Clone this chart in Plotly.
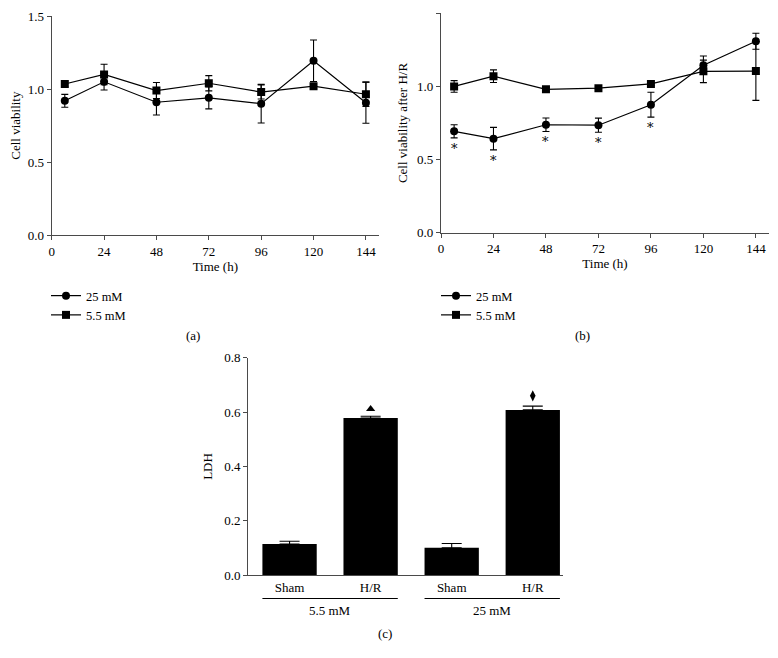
import plotly.graph_objects as go

# ---------------- data ----------------
times = [6, 24, 48, 72, 96, 120, 144]
time_ticks = [0, 24, 48, 72, 96, 120, 144]

a_25 = [0.92, 1.05, 0.91, 0.94, 0.90, 1.194, 0.907]
a_25_err = [0.044, 0.056, 0.087, 0.075, 0.132, 0.142, 0.141]
a_55 = [1.035, 1.10, 0.99, 1.04, 0.98, 1.02, 0.965]
a_55_err = [0.02, 0.07, 0.055, 0.052, 0.048, 0.015, 0.083]

b_25 = [0.693, 0.643, 0.738, 0.735, 0.875, 1.145, 1.309]
b_25_err = [0.045, 0.077, 0.046, 0.048, 0.085, 0.063, 0.055]
b_55 = [1.0, 1.07, 0.98, 0.988, 1.017, 1.103, 1.105]
b_55_err = [0.04, 0.043, 0.012, 0.01, 0.01, 0.077, 0.2]
b_star_idx = [0, 1, 2, 3, 4]

c_labels = ["Sham", "H/R", "Sham", "H/R"]
c_groups = ["5.5 mM", "25 mM"]
c_values = [0.115, 0.578, 0.101, 0.608]
c_err = [0.010, 0.007, 0.016, 0.014]
c_mark_symbols = ["triangle-up", "diamond-tall"]
c_mark_idx = [1, 3]
c_mark_y = [0.611, 0.66]

series_names = ["25 mM", "5.5 mM"]

# ---------------- style ----------------
FONT = "Liberation Serif"
OFF = 8  # page body margin
W, H = 778 - OFF, 658 - OFF
AX = "#4a4a4a"
bar_w = 0.67


def px_x(p):
    return (p - OFF) / W


def px_y(p):
    return 1 - (p - OFF) / H


fig = go.Figure()


def add_line(x, y, err, name, symbol, xa, ya, legend):
    fig.add_trace(go.Scatter(
        x=x, y=y, name=name, mode="lines+markers",
        xaxis=xa, yaxis=ya, legend=legend,
        line=dict(color="black", width=1.2),
        marker=dict(symbol=symbol, size=8, color="black"),
        error_y=dict(type="data", array=err, visible=True,
                     color="black", thickness=1.1, width=3.5),
    ))


add_line(times, a_25, a_25_err, series_names[0], "circle", "x", "y", "legend")
add_line(times, a_55, a_55_err, series_names[1], "square", "x", "y", "legend")
add_line(times, b_25, b_25_err, series_names[0], "circle", "x2", "y2", "legend2")
add_line(times, b_55, b_55_err, series_names[1], "square", "x2", "y2", "legend2")

# bars (c)
cx = list(range(len(c_labels)))
fig.add_trace(go.Bar(
    x=cx, y=c_values, width=bar_w, xaxis="x3", yaxis="y3",
    marker=dict(color="black", line=dict(width=0)), showlegend=False,
    error_y=dict(type="data", symmetric=False, array=c_err,
                 arrayminus=[0] * len(c_err), color="black",
                 thickness=1.1, width=10),
))
fig.add_trace(go.Scatter(
    x=[cx[i] for i in c_mark_idx], y=c_mark_y, mode="markers",
    xaxis="x3", yaxis="y3", showlegend=False,
    marker=dict(symbol=c_mark_symbols, size=8, color="black"),
))

annotations = []
# asterisks for panel b
for i in b_star_idx:
    annotations.append(dict(
        x=times[i], y=b_25[i] - b_25_err[i] - 0.07, xref="x2", yref="y2",
        text="*", showarrow=False,
        font=dict(family="DejaVu Serif", size=13, color="#000000"),
        xanchor="center", yanchor="middle"))

# panel labels
for txt, xp, yp in [("(a)", 193, 335), ("(b)", 582, 335), ("(c)", 385, 633)]:
    annotations.append(dict(x=px_x(xp), y=px_y(yp), xref="paper", yref="paper",
                            text=txt, showarrow=False, xanchor="center",
                            yanchor="middle",
                            font=dict(family=FONT, size=13, color="black")))

# group labels and lines for panel c
shapes = []
for g, name in enumerate(c_groups):
    x0 = cx[2 * g] - bar_w / 2
    x1 = cx[2 * g + 1] + bar_w / 2
    shapes.append(dict(type="line", xref="x3", yref="paper", x0=x0, x1=x1,
                       y0=px_y(598.5), y1=px_y(598.5),
                       line=dict(color="black", width=1)))
    annotations.append(dict(x=(cx[2 * g] + cx[2 * g + 1]) / 2, y=px_y(610),
                            xref="x3", yref="paper", text=name, showarrow=False,
                            xanchor="center", yanchor="middle",
                            font=dict(family=FONT, size=13, color="black")))

tickfont = dict(family=FONT, size=13, color="black")
titlefont = dict(family=FONT, size=13, color="black")


def xline_axis(domain, title, anchor):
    return dict(domain=domain, range=[0, 150], tickvals=time_ticks,
                ticks="outside", ticklen=4, tickcolor=AX, tickwidth=1,
                showline=True, linecolor=AX, linewidth=1.2, showgrid=False,
                zeroline=False, tickfont=tickfont, anchor=anchor,
                title=dict(text=title, font=titlefont, standoff=3),
                automargin=False)


def yline_axis(domain, title, anchor):
    return dict(domain=domain, range=[0, 1.5], tickvals=[0, 0.5, 1.0, 1.5],
                tickformat=".1f", ticks="outside", ticklen=4, tickcolor=AX,
                tickwidth=1, showline=True, linecolor=AX, linewidth=1.2,
                showgrid=False, zeroline=False, tickfont=tickfont, anchor=anchor,
                title=dict(text=title, font=titlefont, standoff=6),
                automargin=False)


legfont = dict(family=FONT, size=12.5, color="black")

fig.update_layout(
    width=W, height=H, margin=dict(l=0, r=0, t=0, b=0),
    paper_bgcolor="white", plot_bgcolor="white",
    font=dict(family=FONT, size=13, color="black"),
    xaxis=xline_axis([px_x(51.7), px_x(379)], "Time (h)", "y"),
    yaxis=yline_axis([px_y(235.3), px_y(16)], "Cell viability", "x"),
    xaxis2=xline_axis([px_x(441), px_x(769)], "Time (h)", "y2"),
    yaxis2=yline_axis([px_y(232.7), px_y(13.3)], "Cell viability after H/R", "x2"),
    xaxis3=dict(domain=[px_x(248.3), px_x(563)], range=[-0.509, 3.373],
                tickvals=cx, ticktext=c_labels, ticks="", showline=True,
                linecolor=AX, linewidth=1.2, showgrid=False, zeroline=False,
                tickfont=tickfont, anchor="y3", automargin=False),
    yaxis3=dict(domain=[px_y(575.3), px_y(357.7)], range=[0, 0.8],
                tickvals=[0, 0.2, 0.4, 0.6, 0.8], tickformat=".1f",
                ticks="outside", ticklen=4, tickcolor=AX, tickwidth=1,
                showline=True, linecolor=AX, linewidth=1.2, showgrid=False,
                zeroline=False, tickfont=tickfont, anchor="x3",
                title=dict(text="LDH", font=titlefont, standoff=8),
                automargin=False),
    legend=dict(x=px_x(46), y=px_y(281), xanchor="left", yanchor="top",
                font=legfont, bgcolor="rgba(0,0,0,0)", itemwidth=30,
                tracegroupgap=0),
    legend2=dict(x=px_x(436), y=px_y(281), xanchor="left", yanchor="top",
                 font=legfont, bgcolor="rgba(0,0,0,0)", itemwidth=30,
                 tracegroupgap=0),
    annotations=annotations,
    shapes=shapes,
)

fig.write_html("out.html")
